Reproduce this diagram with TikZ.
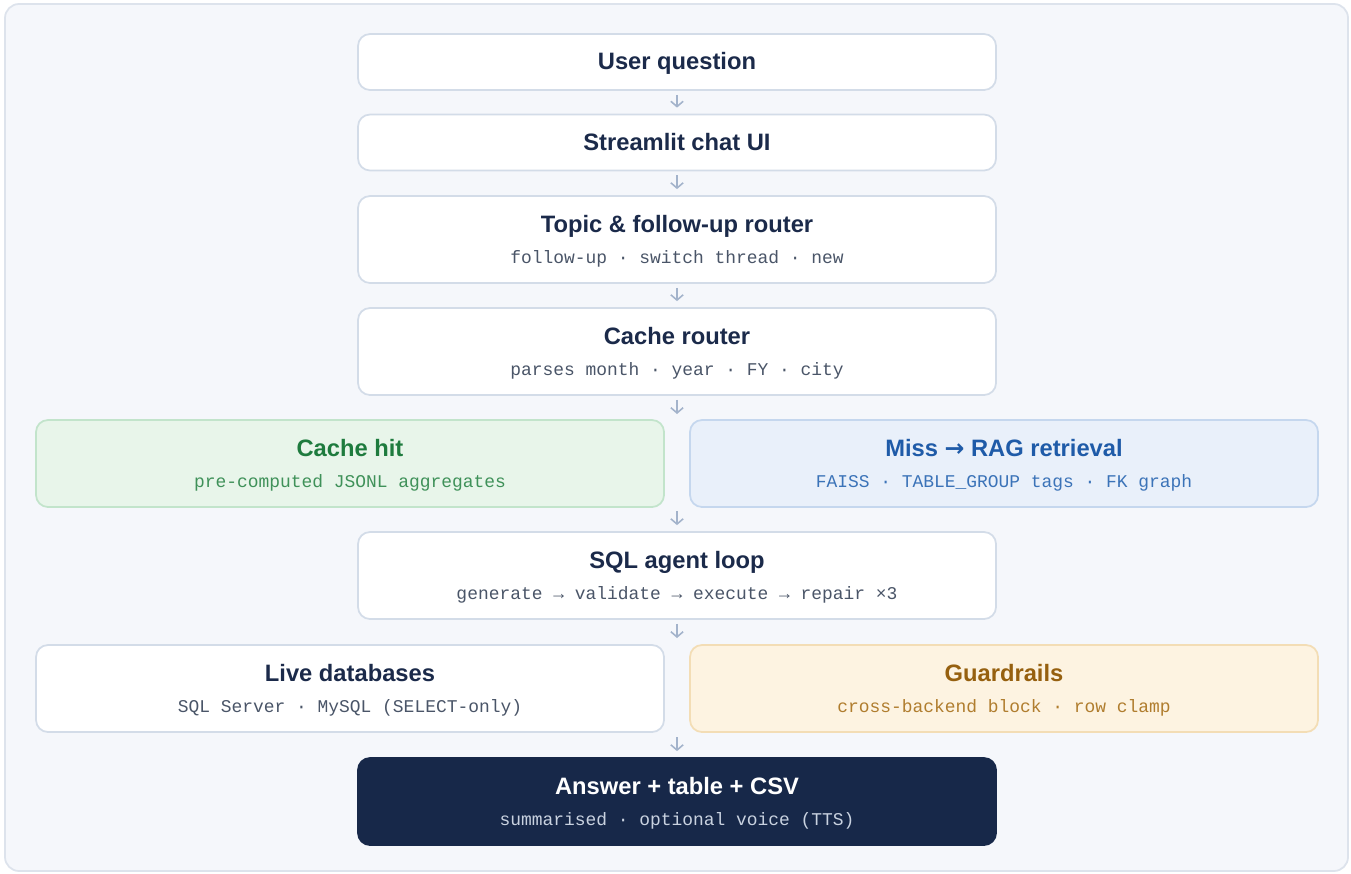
\documentclass[tikz,border=0pt]{standalone}
\usepackage{fontspec}
\setmainfont{Liberation Sans}
\setmonofont{Liberation Mono}
\newfontfamily\arrowfont{DejaVu Sans}
\usetikzlibrary{arrows.meta}

\definecolor{pagefill}{HTML}{F5F7FB}
\definecolor{pageline}{HTML}{DDE3EC}
\definecolor{boxline}{HTML}{D3DCE8}
\definecolor{ink}{HTML}{1B2A4A}
\definecolor{inksub}{HTML}{4A5568}
\definecolor{arrowc}{HTML}{A3B3CB}
\definecolor{hitfill}{HTML}{E8F5EA}
\definecolor{hitline}{HTML}{C2E4CB}
\definecolor{hitink}{HTML}{1E7B3E}
\definecolor{hitsub}{HTML}{3F9159}
\definecolor{missfill}{HTML}{E9F0FA}
\definecolor{missline}{HTML}{C5D7EE}
\definecolor{missink}{HTML}{1F5BA8}
\definecolor{misssub}{HTML}{3B73B8}
\definecolor{guardfill}{HTML}{FDF3E1}
\definecolor{guardline}{HTML}{F3DDB5}
\definecolor{guardink}{HTML}{96600F}
\definecolor{guardsub}{HTML}{B07D2E}
\definecolor{ansfill}{HTML}{172849}
\definecolor{anssub}{HTML}{C9D2E0}

\newcommand\headfont{\fontsize{13.5}{16}\selectfont\bfseries}
\newcommand\codefont{\fontsize{10.2}{18}\selectfont\ttfamily\mdseries}
\newcommand\codeline[2]{\\[1.5pt]{\codefont\color{#1}#2}}

\tikzset{
  box/.style={draw=boxline, fill=white, line width=1pt, rounded corners=0.24cm,
    minimum width=12.76cm, align=center, text=ink, font=\headfont},
  slim/.style={minimum height=1.12cm, text depth=0.12em},
  wide/.style={minimum height=1.74cm, text depth=0pt},
  side/.style={minimum width=12.56cm},
  flow/.style={draw=arrowc, line width=0.9pt, -{Straight Barb[length=3pt,width=7pt]},
    shorten <=0.08cm, shorten >=0.12cm}
}

\begin{document}
\begin{tikzpicture}
\useasboundingbox (0,0) rectangle (27.02,-17.46);
\draw[draw=pageline, fill=pagefill, line width=1pt, rounded corners=0.28cm]
  (0.1,-0.08) rectangle (26.96,-17.42);

\node[box, slim] (q) at (13.54,-1.24) {User question};
\node[box, slim] (ui) at (13.54,-2.85) {Streamlit chat UI};
\node[box, wide] (topic) at (13.54,-4.79)
  {Topic \& follow-up router\codeline{inksub}{follow-up · switch thread · new}};
\node[box, wide] (cr) at (13.54,-7.03)
  {Cache router\codeline{inksub}{parses month · year · FY · city}};

\node[box, wide, side, fill=hitfill, draw=hitline, text=hitink] (hit) at (7.0,-9.27)
  {Cache hit\codeline{hitsub}{pre-computed JSONL aggregates}};
\node[box, wide, side, fill=missfill, draw=missline, text=missink] (miss) at (20.08,-9.27)
  {Miss {\arrowfont →} RAG retrieval\codeline{misssub}{FAISS · TABLE\_GROUP tags · FK graph}};
\coordinate (split1) at (13.54,-8.40);
\coordinate (join1) at (13.54,-10.14);

\node[box, wide] (agent) at (13.54,-11.51)
  {SQL agent loop\codeline{inksub}{generate → validate → execute → repair ×3}};

\node[box, wide, side] (db) at (7.0,-13.77)
  {Live databases\codeline{inksub}{SQL Server · MySQL (SELECT-only)}};
\node[box, wide, side, fill=guardfill, draw=guardline, text=guardink] (guard) at (20.08,-13.77)
  {Guardrails\codeline{guardsub}{cross-backend block · row clamp}};
\coordinate (split2) at (13.54,-12.88);
\coordinate (join2) at (13.54,-14.66);

\node[box, wide, fill=ansfill, draw=ansfill, text=white] (ans) at (13.54,-16.03)
  {Answer + table + CSV\codeline{anssub}{summarised · optional voice (TTS)}};

\foreach \i/\j in {q/ui, ui/topic, topic/cr, cr/split1,%
            join1/agent, agent/split2, join2/ans%
            }
    \draw[flow] (\i) -- (\j);

\end{tikzpicture}
\end{document}
